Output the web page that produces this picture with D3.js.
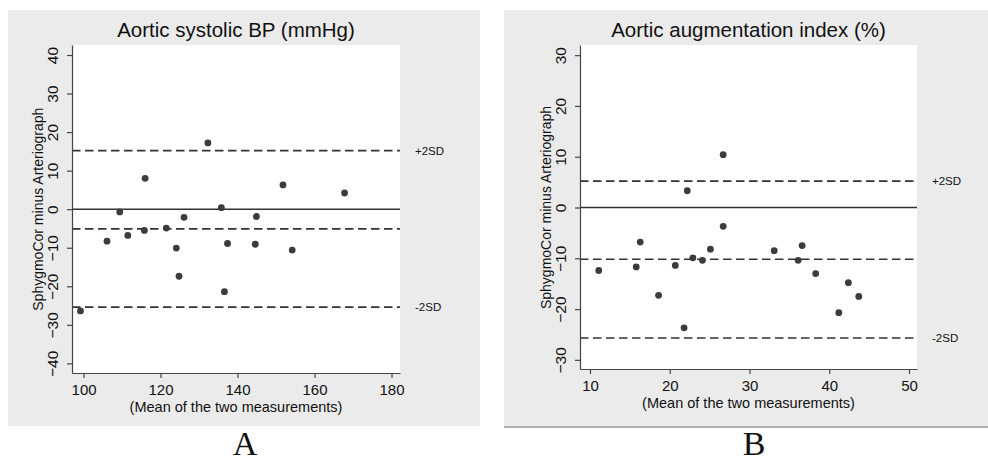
<!DOCTYPE html>
<html>
<head>
<meta charset="utf-8">
<script src="https://cdn.jsdelivr.net/npm/d3@7"></script>
<style>
  body { margin: 0; background: #fff; }
  text { font-family: "Liberation Sans", Arial, sans-serif; fill: #111; }
  .domain, .tick line { stroke: #444; stroke-width: 1.2; }
</style>
</head>
<body>
<div id="chart"></div>
<script>
// Panel A - aortic systolic BP
var bpMean = [99.2, 106.1, 109.4, 111.5, 116.0, 115.8, 121.5, 124.1, 124.8, 126.1,
              132.3, 135.8, 136.6, 137.4, 144.6, 144.9, 151.8, 154.2, 167.8];
var bpDiff = [-26.4, -8.3, -0.7, -6.8, 8.0, -5.5, -4.9, -10.1, -17.4, -2.1,
              17.2, 0.4, -21.4, -8.9, -9.1, -1.9, 6.3, -10.6, 4.2];
var bpLimits = [15.2, -5.1, -25.4];   // +2SD, mean diff, -2SD
var bpXTicks = [100, 120, 140, 160, 180];
var bpYTicks = [-40, -30, -20, -10, 0, 10, 20, 30, 40];

// Panel B - aortic augmentation index
var aixMean = [11.1, 15.8, 16.3, 18.6, 20.7, 21.8, 22.2, 22.9, 24.1, 25.1,
               26.7, 26.7, 33.1, 36.1, 36.6, 38.3, 41.2, 42.4, 43.7];
var aixDiff = [-12.4, -11.7, -6.8, -17.3, -11.4, -23.7, 3.3, -9.9, -10.4, -8.2,
               10.4, -3.7, -8.5, -10.4, -7.5, -13.0, -20.7, -14.8, -17.5];
var aixLimits = [5.2, -10.2, -25.7];
var aixXTicks = [10, 20, 30, 40, 50];
var aixYTicks = [-30, -20, -10, 0, 10, 20, 30];

var svg = d3.select("#chart")
  .append("svg")
  .attr("width", 988)
  .attr("height", 464);

// draws one Bland-Altman panel
function drawPanel(p) {
  // grey graph region
  svg.append("rect")
    .attr("x", p.bg[0]).attr("y", p.bg[1])
    .attr("width", p.bg[2]).attr("height", p.bg[3])
    .attr("fill", "#ebebeb");

  var x = d3.scaleLinear().domain(p.xDomain).range([p.left, p.right]);
  var y = d3.scaleLinear().domain(p.yDomain).range([p.bottom, p.top]);

  // white plot region
  svg.append("rect")
    .attr("x", p.left).attr("y", p.top)
    .attr("width", p.right - p.left).attr("height", p.bottom - p.top)
    .attr("fill", "#fff");

  // zero line
  svg.append("line")
    .attr("x1", p.left).attr("x2", p.right)
    .attr("y1", y(0)).attr("y2", y(0))
    .attr("stroke", "#333").attr("stroke-width", 1.6);

  // mean and +/-2SD lines
  svg.selectAll(null)
    .data(p.limits)
    .enter()
    .append("line")
    .attr("x1", p.left).attr("x2", p.right)
    .attr("y1", d => y(d)).attr("y2", d => y(d))
    .attr("stroke", "#333").attr("stroke-width", 1.6)
    .attr("stroke-dasharray", "8.5,4.5");

  // points
  svg.selectAll(null)
    .data(p.xs)
    .enter()
    .append("circle")
    .attr("cx", d => x(d))
    .attr("cy", (d, i) => y(p.ys[i]))
    .attr("r", 3.4)
    .attr("fill", "#3c3c3c");

  // y axis, Stata style vertical labels
  var yAxis = svg.append("g")
    .attr("transform", `translate(${p.left},0)`)
    .call(d3.axisLeft(y).tickValues(p.yTicks).tickSize(5).tickSizeOuter(0));
  yAxis.selectAll("text")
    .attr("transform", "rotate(-90)")
    .attr("x", 0).attr("y", -19).attr("dy", "0.35em")
    .attr("text-anchor", "middle")
    .style("font-size", "15.5px");

  // x axis
  var xAxis = svg.append("g")
    .attr("transform", `translate(0,${p.bottom})`)
    .call(d3.axisBottom(x).tickValues(p.xTicks).tickSize(5).tickPadding(6).tickSizeOuter(0));
  xAxis.selectAll("text").style("font-size", "15px");
  svg.selectAll(".tick text").attr("fill", "#111").style("font-family", "Liberation Sans, Arial, sans-serif");

  var cx = (p.left + p.right) / 2;

  // title
  svg.append("text")
    .attr("x", cx).attr("y", 37)
    .attr("text-anchor", "middle")
    .style("font-size", "20.5px")
    .text(p.title);

  // x title
  svg.append("text")
    .attr("x", cx).attr("y", p.bottom + 39)
    .attr("text-anchor", "middle")
    .style("font-size", "14.5px")
    .text("(Mean of the two measurements)");

  // y title
  svg.append("text")
    .attr("transform", `translate(${p.left - 29},${y(0)}) rotate(-90)`)
    .attr("text-anchor", "middle")
    .style("font-size", "14px")
    .text("SphygmoCor minus Arteriograph");

  // SD labels
  svg.append("text")
    .attr("x", p.right + 15).attr("y", y(p.limits[0])).attr("dy", "0.35em")
    .style("font-size", "11.5px")
    .text("+2SD");
  svg.append("text")
    .attr("x", p.right + 15).attr("y", y(p.limits[2])).attr("dy", "0.35em")
    .style("font-size", "11.5px")
    .text("-2SD");

  // panel letter
  svg.append("text")
    .attr("x", p.letterX).attr("y", 455)
    .attr("text-anchor", "middle")
    .style("font-family", "Liberation Serif, Times New Roman, serif")
    .style("font-size", "34px")
    .text(p.letter);
}

drawPanel({
  bg: [8, 10, 472, 416],
  left: 72, right: 400, top: 45, bottom: 373,
  xDomain: [97, 182.2], yDomain: [-42.5, 42.6],
  xs: bpMean, ys: bpDiff, limits: bpLimits,
  xTicks: bpXTicks, yTicks: bpYTicks,
  title: "Aortic systolic BP (mmHg)",
  letter: "A", letterX: 245
});

drawPanel({
  bg: [504, 10, 484, 417],
  left: 580, right: 917, top: 45, bottom: 369,
  xDomain: [8.75, 51.0], yDomain: [-31.8, 32],
  xs: aixMean, ys: aixDiff, limits: aixLimits,
  xTicks: aixXTicks, yTicks: aixYTicks,
  title: "Aortic augmentation index (%)",
  letter: "B", letterX: 754
});

// rule under panel B
svg.append("line")
  .attr("x1", 504).attr("x2", 988)
  .attr("y1", 427).attr("y2", 427)
  .attr("stroke", "#999").attr("stroke-width", 1.5);
</script>
</body>
</html>
